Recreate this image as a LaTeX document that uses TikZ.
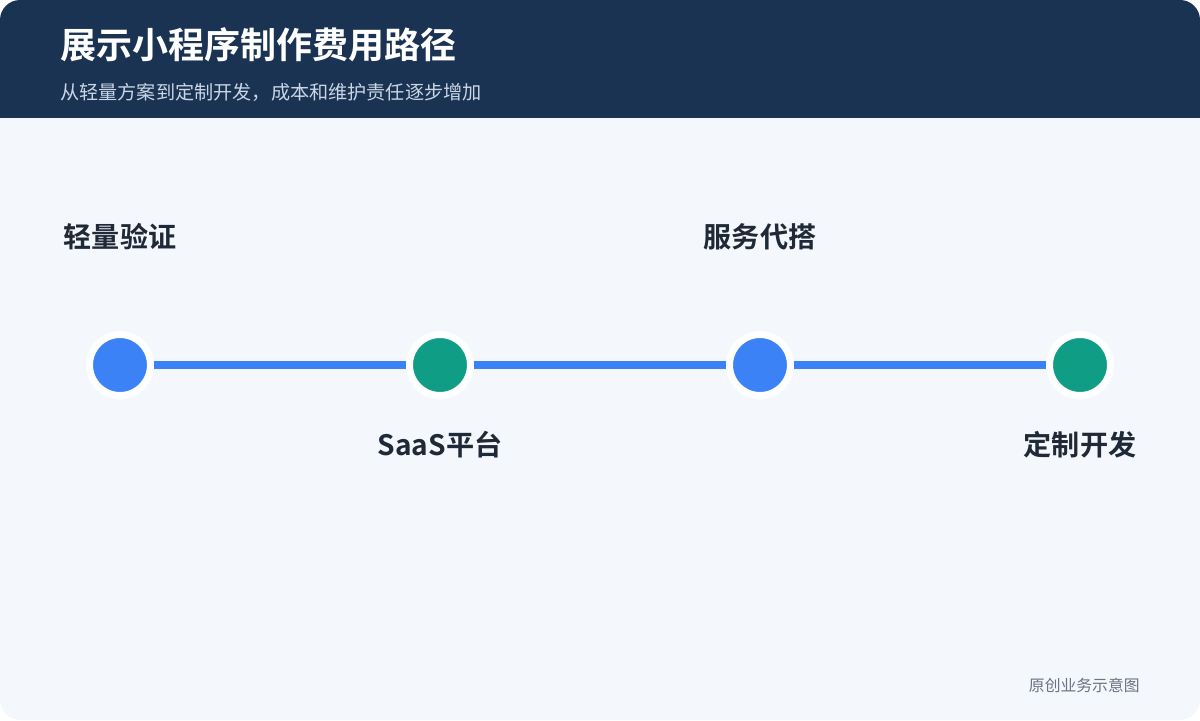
\documentclass[tikz,border=0pt]{standalone}
\usepackage{fontspec}
\setmainfont{Noto Sans CJK SC}[BoldFont={Noto Sans CJK SC Bold}]
\usepackage{xcolor}
\definecolor{headbg}{HTML}{1A3352}
\definecolor{cardbg}{HTML}{F4F8FD}
\definecolor{stepblue}{HTML}{3B82F6}
\definecolor{stepgreen}{HTML}{0F9D86}
\definecolor{labeltext}{HTML}{1F2937}
\definecolor{subtext}{HTML}{C9D6E8}
\definecolor{notetext}{HTML}{6B7280}
\tikzset{
    step-dot/.style = {circle, draw=white, line width=7*0.569pt, minimum size=61*0.569pt, inner sep=0pt},
    step-label/.style = {font=\bfseries\fontsize{16pt}{18pt}\selectfont, text=labeltext},
    path-link/.style = {stepblue, line width=8*0.569pt},
}
\begin{document}
\begin{tikzpicture}[x=0.02cm, y=-0.02cm]
\useasboundingbox (0,0) rectangle (1200,720);
\fill[cardbg, rounded corners=20*0.569pt] (0,0) rectangle (1200,720);
\begin{scope}
\clip[rounded corners=20*0.569pt] (0,0) rectangle (1200,720);
\fill[headbg] (0,0) rectangle (1200,118);
\end{scope}
\node[anchor=west, inner sep=0pt, text=white, font=\bfseries\fontsize{20.5pt}{23pt}\selectfont] (title) at (60,45) {展示小程序制作费用路径};
\node[anchor=west, inner sep=0pt, text=subtext, font=\fontsize{10.9pt}{13pt}\selectfont] (subtitle) at (60,92) {从轻量方案到定制开发，成本和维护责任逐步增加};
% steps
\node[step-dot, fill=stepblue] (s1) at (120,365) {};
\node[step-dot, fill=stepgreen] (s2) at (440,365) {};
\node[step-dot, fill=stepblue] (s3) at (760,365) {};
\node[step-dot, fill=stepgreen] (s4) at (1080,365) {};
\draw[path-link] (s1) -- (s2);
\draw[path-link] (s2) -- (s3);
\draw[path-link] (s3) -- (s4);
\node[step-label] (l1) at (120,237) {轻量验证};
\node[step-label] (l2) at (440,445) {SaaS平台};
\node[step-label] (l3) at (760,237) {服务代搭};
\node[step-label] (l4) at (1080,445) {定制开发};
\node[anchor=east, inner sep=0pt, text=notetext, font=\fontsize{9pt}{11pt}\selectfont] (note) at (1140,685) {原创业务示意图};
\end{tikzpicture}
\end{document}
